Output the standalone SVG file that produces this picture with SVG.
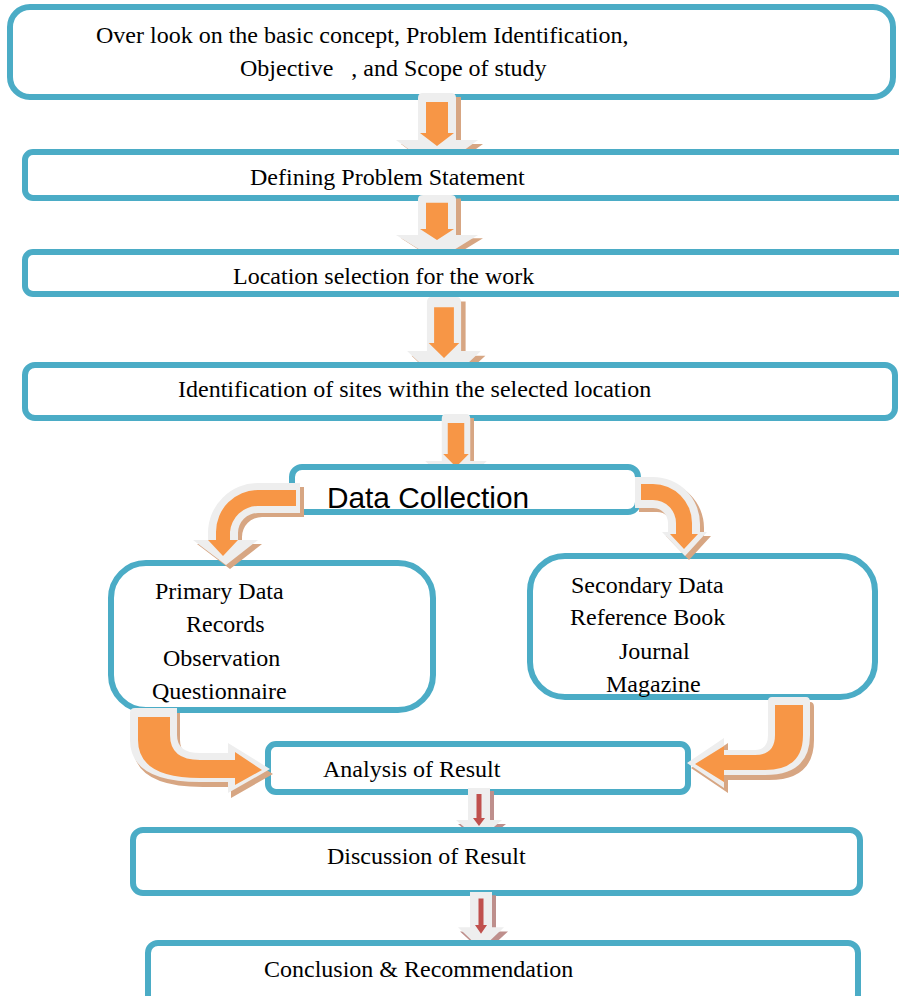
<svg xmlns="http://www.w3.org/2000/svg" width="899" height="996" viewBox="0 0 899 996">
<style>
.box{fill:#fff;stroke:#4BACC6;stroke-width:6}
.t{font-family:"Liberation Serif","Times New Roman",serif;font-size:24px;fill:#000}
.dc{font-family:"Liberation Sans",Arial,sans-serif;font-size:29.8px;fill:#000}
.sh{fill:#D7A683}
.wh{fill:#EEEEEE}
.or{fill:#F79646}
.rsh{fill:#BE8F8C}
.rd{fill:#C0504D}
</style>
<defs>
<g id="down">
<path class="sh" d="M-14,4 H24 V51 H46 L4,81 L-36,51 H-14 Z"/>
<path class="wh" d="M-14,0 Q-19,0 -19,5 V47 H-41 L0,77 L41,47 H19 V5 Q19,0 14,0 Z"/>
<path class="or" d="M-11,9 H11 V40 H17 L0,53 L-17,40 H-11 Z"/>
</g>
<g id="rdown">
<path class="rsh" d="M-8,3 H15 V36 H27 L3,56 L-21,36 H-8 Z"/>
<path class="wh" d="M-11,0 H11 V32 H23 L0,52 L-23,32 H-11 Z"/>
<path class="rd" d="M-2.5,6 H2.5 V30 H6 L0,38 L-6,30 H-2.5 Z"/>
</g>
</defs>

<g id="node1"><rect class="box" x="10" y="7" width="883" height="90" rx="20"/>
<text class="t" x="96" y="43">Over look on the basic concept, Problem Identification,</text>
<text class="t" x="240" y="76" xml:space="preserve">Objective   , and Scope of study</text></g>

<g class="connectors" id="conn1"><use href="#down" transform="translate(437,93)"/></g>

<g id="node2"><rect class="box" x="25" y="152" width="900" height="46" rx="8"/>
<text class="t" x="250" y="185">Defining Problem Statement</text></g>

<g class="connectors" id="conn2"><use href="#down" transform="translate(437,195) scale(1,0.85)"/></g>

<g id="node3"><rect class="box" x="25" y="252" width="900" height="42" rx="8"/>
<text class="t" x="233" y="284">Location selection for the work</text></g>

<g class="connectors" id="conn3"><use href="#down" transform="translate(444,297) scale(0.9,1.15)"/></g>

<g id="node4"><rect class="box" x="25" y="365" width="870" height="53" rx="10"/>
<text class="t" x="178" y="397">Identification of sites within the selected location</text></g>

<g class="connectors" id="conn4"><use href="#down" transform="translate(456,414) scale(0.75,1)"/></g>

<g id="node5"><rect class="box" x="292" y="467" width="346" height="45" rx="10"/>
<text class="dc" x="327" y="508">Data Collection</text></g>

<g id="node6"><rect class="box" x="111" y="563" width="322" height="147" rx="35"/>
<text class="t" x="155" y="599">Primary Data</text>
<text class="t" x="186" y="632">Records</text>
<text class="t" x="163" y="666">Observation</text>
<text class="t" x="152" y="699">Questionnaire</text></g>

<g id="node7"><rect class="box" x="530" y="556" width="345" height="141" rx="35"/>
<text class="t" x="571" y="593">Secondary Data</text>
<text class="t" x="570" y="625">Reference Book</text>
<text class="t" x="619" y="659">Journal</text>
<text class="t" x="606" y="692">Magazine</text></g>

<g id="node8"><rect class="box" x="268" y="744" width="420" height="48" rx="8"/>
<text class="t" x="323" y="777">Analysis of Result</text></g>

<g class="connectors" id="conn5">
<path class="sh" transform="translate(4,4)" d="M300,483 H258 A50,50 0 0 0 208,533 V540 H193 L226,565 L258,540 H238 V533 A20,20 0 0 1 258,513 H300 Z"/>
<path class="wh" d="M300,483 H258 A50,50 0 0 0 208,533 V540 H193 L226,565 L258,540 H238 V533 A20,20 0 0 1 258,513 H300 Z"/>
<path class="or" d="M296,490 H258 A42,42 0 0 0 216,532 V540 H208 L223,556 L238,540 H230 V532 A28,28 0 0 1 258,506 H296 Z"/>
<path class="sh" transform="translate(4,4)" d="M635,477 H653 A47,47 0 0 1 700,524 V532 H707 L685,556 L662,532 H668 V523 A15,15 0 0 0 653,508 H635 Z"/>
<path class="wh" d="M635,477 H653 A47,47 0 0 1 700,524 V532 H707 L685,556 L662,532 H668 V523 A15,15 0 0 0 653,508 H635 Z"/>
<path class="or" d="M641,484 H653 A39,39 0 0 1 692,523 V534 H698 L684,549 L670,534 H676 V523 A23,23 0 0 0 653,500 H641 Z"/>
<path class="sh" transform="translate(3,5)" d="M135,708 H177 V735 Q177,753 200,753 H228 V743 L270,769 L228,793 V782 H200 Q130,782 130,740 V713 Q130,708 135,708 Z"/>
<path class="wh" d="M135,708 H177 V735 Q177,753 200,753 H228 V743 L270,769 L228,793 V782 H200 Q130,782 130,740 V713 Q130,708 135,708 Z"/>
<path class="or" d="M138,717 H170 V735 Q170,760 200,760 H235 V752 L262,770 L235,785 V778 H200 Q138,778 138,740 Z"/>
<path class="sh" transform="translate(4,5)" d="M772,697 H806 Q810,697 810,702 V735 Q810,775 765,775 H724 V788 L687,763 L724,738 V750 H755 Q768,750 768,735 V701 Q768,697 772,697 Z"/>
<path class="wh" d="M772,697 H806 Q810,697 810,702 V735 Q810,775 765,775 H724 V788 L687,763 L724,738 V750 H755 Q768,750 768,735 V701 Q768,697 772,697 Z"/>
<path class="or" d="M775,705 H803 V735 Q803,770 765,770 H724 V782 L695,764 L724,746 V755 H755 Q775,755 775,735 Z"/>
</g>

<g class="connectors" id="conn6"><use href="#rdown" transform="translate(479,788)"/></g>

<g id="node9"><rect class="box" x="133" y="830" width="727" height="63" rx="10"/>
<text class="t" x="327" y="864">Discussion of Result</text></g>

<g class="connectors" id="conn7"><use href="#rdown" transform="translate(481,892) scale(1,1.1)"/></g>

<g id="node10"><rect class="box" x="148" y="943" width="710" height="62" rx="10"/>
<text class="t" x="264" y="977">Conclusion &amp; Recommendation</text></g>
</svg>
